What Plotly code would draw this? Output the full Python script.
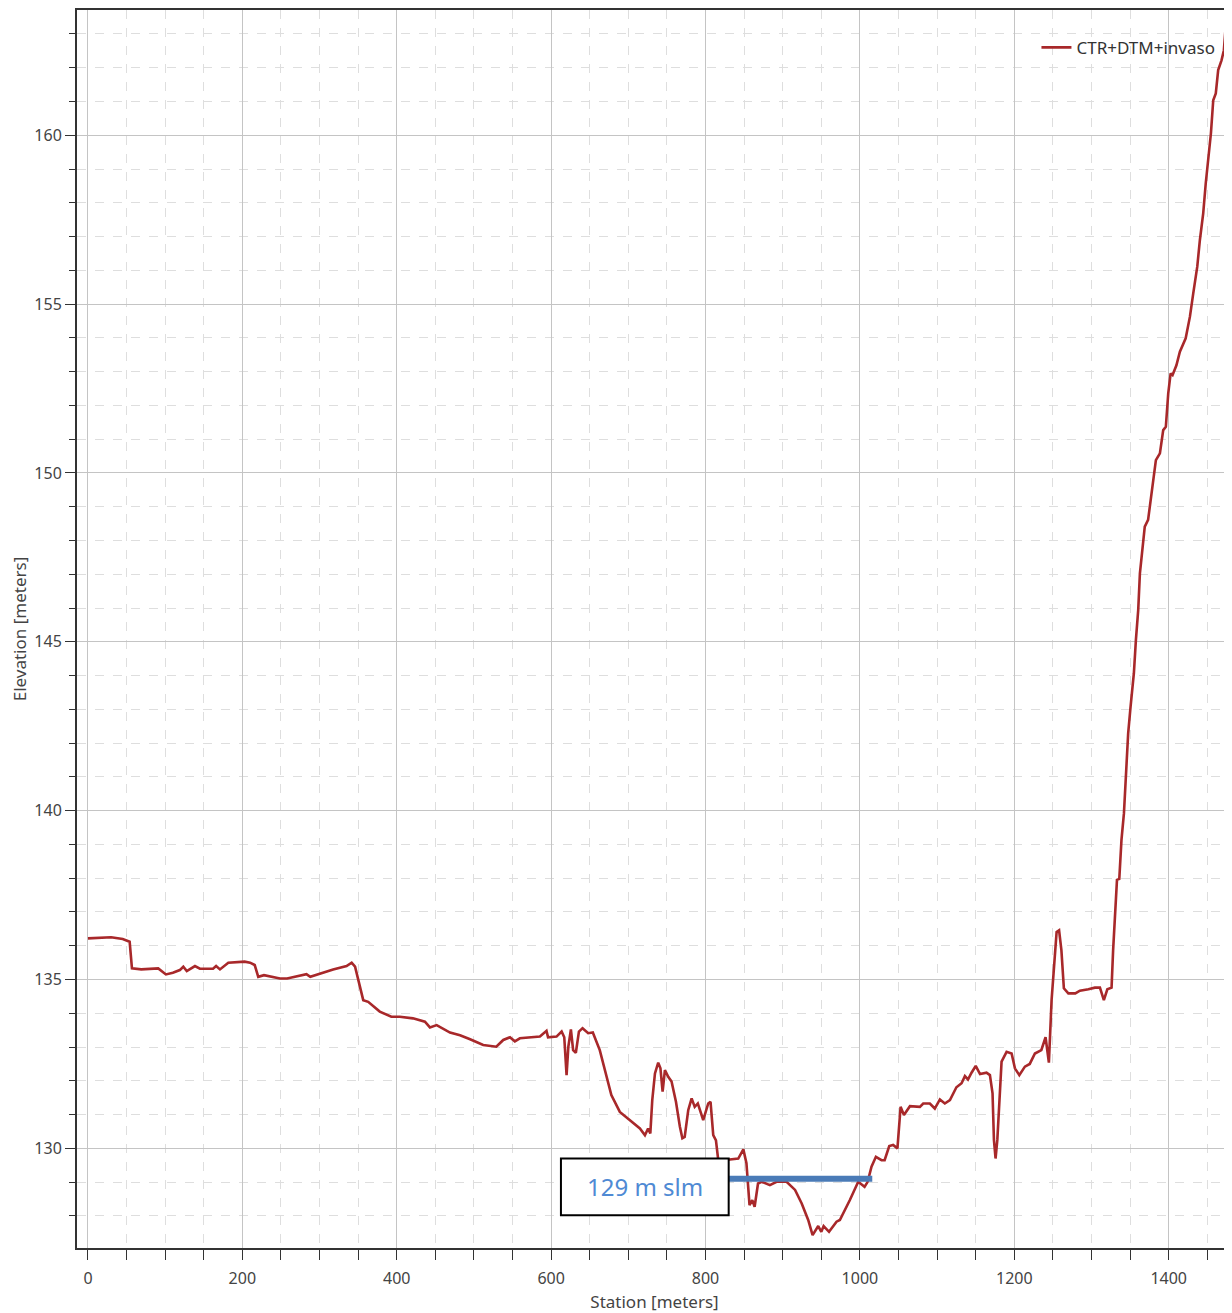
import plotly.graph_objects as go

station = [
    0, 30, 45, 54, 57, 69, 91, 101, 110, 119, 123.5, 128, 138.6, 145, 162, 166, 171, 181.8, 203, 210,
    216, 220.6, 228, 248.7, 258, 283, 288, 317.6, 335, 341.6, 346, 356.6, 363, 378, 393, 404, 421, 436.5,
    443, 451.7, 469, 482, 495, 512, 529, 538, 546.6, 553, 559.5, 577, 585.5, 594, 596, 607, 613.6, 617,
    620, 622.3, 625.6, 628.5, 632, 636, 640.7, 648, 654, 663, 669.7, 678, 689, 702, 715, 721.5, 725.6,
    728.5, 731, 734.5, 738.7, 741.6, 744.4, 747.4, 751.7, 756, 761.7, 766.8, 770, 773, 777.6, 782, 786,
    790, 797, 803.5, 806.5, 810, 813.5, 816.5, 823, 842.4, 849, 853, 857, 860.6, 863.6, 868, 872.7,
    883.4, 892, 905, 916, 924.6, 933, 938.7, 946, 950, 953, 960, 969.7, 974, 980.6, 987, 997.8, 1006,
    1010, 1015, 1020.7, 1028, 1032, 1038, 1043, 1048.6, 1052.7, 1057, 1064.8, 1077.7, 1082, 1090.6,
    1097, 1103.6, 1110, 1116.6, 1125, 1131.7, 1136, 1140, 1144.6, 1150, 1155.6, 1164, 1168.4, 1171.8,
    1173.6, 1175.7, 1178, 1180.5, 1183.5, 1190, 1196.5, 1200.8, 1206.5, 1213.7, 1220, 1226.7, 1235,
    1240.5, 1244.8, 1248.3, 1251.3, 1254.8, 1258, 1261, 1264.2, 1270, 1279, 1285, 1296, 1304.4, 1310.9,
    1316, 1320.5, 1326, 1328, 1330, 1333, 1336, 1338.8, 1342, 1345.4, 1347.5, 1350.6, 1353, 1354.9,
    1357.5, 1360.5, 1362.7, 1369, 1373.3, 1379, 1383.4, 1388.6, 1392.9, 1396.3, 1399.4, 1402.5, 1405,
    1410, 1414.5, 1422, 1427.5, 1431.8, 1437, 1440.4, 1444.7, 1448, 1451.2, 1454.7, 1457.7, 1461,
    1464.1, 1468.4, 1471.5, 1474.1,
]
elevation = [
    136.22, 136.25, 136.20, 136.12, 135.33, 135.30, 135.33, 135.15, 135.20, 135.28, 135.38, 135.25,
    135.40, 135.32, 135.32, 135.40, 135.30, 135.50, 135.53, 135.50, 135.43, 135.08, 135.13, 135.03,
    135.03, 135.16, 135.08, 135.30, 135.40, 135.50, 135.38, 134.39, 134.34, 134.05, 133.90, 133.90,
    133.85, 133.75, 133.58, 133.65, 133.43, 133.35, 133.23, 133.06, 133.01, 133.21, 133.29, 133.17,
    133.26, 133.29, 133.31, 133.48, 133.29, 133.31, 133.46, 133.29, 132.17, 133.01, 133.52, 132.91,
    132.83, 133.46, 133.56, 133.41, 133.43, 132.91, 132.32, 131.58, 131.08, 130.84, 130.59, 130.39,
    130.59, 130.44, 131.43, 132.22, 132.54, 132.37, 131.68, 132.32, 132.12, 131.98, 131.38, 130.64,
    130.30, 130.34, 131.13, 131.48, 131.23, 131.33, 130.84, 131.33, 131.38, 130.39, 130.24, 129.65,
    129.65, 129.70, 129.97, 129.56, 128.32, 128.47, 128.27, 128.96, 129.01, 128.91, 129.01, 129.01,
    128.77, 128.37, 127.88, 127.43, 127.70, 127.53, 127.70, 127.53, 127.83, 127.88, 128.17, 128.47,
    129.01, 128.86, 129.01, 129.46, 129.75, 129.65, 129.65, 130.07, 130.10, 130.00, 131.23, 130.99,
    131.25, 131.23, 131.33, 131.33, 131.18, 131.45, 131.33, 131.43, 131.81, 131.93, 132.14, 132.04,
    132.24, 132.44, 132.20, 132.24, 132.17, 131.63, 130.25, 129.70, 130.25, 131.53, 132.57, 132.86,
    132.81, 132.37, 132.17, 132.42, 132.50, 132.81, 132.91, 133.29, 132.54, 134.39, 135.38, 136.41,
    136.46, 135.87, 134.74, 134.59, 134.59, 134.67, 134.71, 134.76, 134.76, 134.39, 134.71, 134.76,
    135.87, 136.80, 137.95, 137.98, 139.13, 139.92, 141.30, 142.29, 143.08, 143.57, 144.07, 145.05,
    145.94, 147.03, 148.41, 148.61, 149.59, 150.38, 150.58, 151.27, 151.37, 152.36, 152.95, 152.90,
    153.19, 153.59, 153.99, 154.63, 155.32, 156.11, 156.90, 157.69, 158.58, 159.27, 160.06, 161.04,
    161.24, 161.93, 162.22, 162.52, 163.31,
]

level = 129.1
level_x = [830, 1016]
level_label = "129 m slm"

font = "Noto Sans, Open Sans, sans-serif"

fig = go.Figure()
fig.add_trace(go.Scatter(
    x=station, y=elevation,
    mode='lines',
    name='CTR+DTM+invaso',
    line=dict(color='#a8282a', width=2.6),
))

# water level line + label box
fig.add_shape(type='line', x0=level_x[0], x1=level_x[1], y0=level, y1=level,
              line=dict(color='#4a7bb7', width=6))
fig.add_shape(type='rect', x0=612.7, x1=level_x[0], y0=128.02, y1=129.70,
              fillcolor='white', line=dict(color='black', width=2))
fig.add_annotation(x=721, y=128.86, text=level_label, showarrow=False,
                   font=dict(family=font, size=24, color='#4f8ad4'))

# page body adds an 8px margin, so the figure is 8px smaller than the window
fig.update_layout(
    width=1224, height=1305,
    margin=dict(l=69, r=0, t=2, b=65),
    paper_bgcolor='white',
    plot_bgcolor='white',
    font=dict(family=font, size=16, color='#444444'),
    showlegend=True,
    legend=dict(
        x=0.99, y=0.984, xanchor='right', yanchor='top',
        bgcolor='rgba(0,0,0,0)',
        font=dict(size=17, color='#333333'),
    ),
    xaxis=dict(
        range=[-14.2, 1482],
        dtick=200, tick0=0,
        automargin=False,
        showgrid=True, gridcolor='#c4c4c4', gridwidth=1,
        zeroline=False,
        showline=True, linecolor='#333333', linewidth=2, mirror=True,
        ticks='outside', ticklen=10, tickcolor='#333333',
        ticklabelstandoff=5,
        minor=dict(dtick=50, showgrid=True, gridcolor='#dedede', griddash='dash',
                   ticks='outside', ticklen=10, tickcolor='#333333'),
        title=dict(text='Station [meters]', font=dict(size=17, color='#444444')),
    ),
    yaxis=dict(
        range=[127.05, 163.71],
        dtick=5, tick0=130,
        automargin=False,
        showgrid=True, gridcolor='#c4c4c4', gridwidth=1,
        zeroline=False,
        showline=True, linecolor='#333333', linewidth=2,
        ticks='outside', ticklen=10, tickcolor='#333333',
        minor=dict(dtick=1, showgrid=True, gridcolor='#dedede', griddash='dash',
                   ticks='outside', ticklen=6, tickcolor='#333333'),
        title=dict(text='Elevation [meters]', font=dict(size=17, color='#444444')),
    ),
)

fig.write_html("out.html")
